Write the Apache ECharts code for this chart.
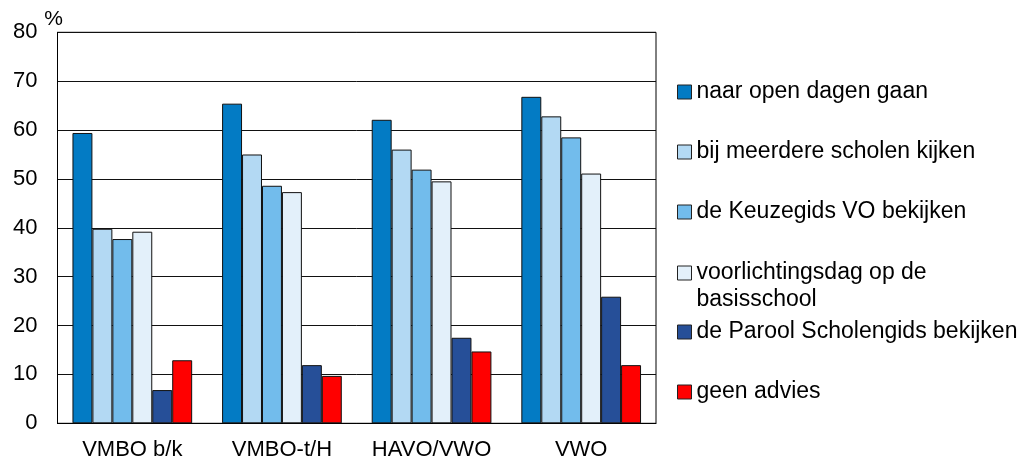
<!DOCTYPE html>
<html>
<head>
<meta charset="utf-8">
<title>Oriëntatie op het voortgezet onderwijs</title>
<script src="https://cdn.jsdelivr.net/npm/echarts@6/dist/echarts.min.js"></script>
<style>
    html, body { margin: 0; padding: 0; background: #fff; }
    #chart { width: 1033px; height: 463px; }
</style>
</head>
<body>
<div id="chart"></div>
<script>
// categorieen (schooladvies)
var categories = ['VMBO b/k', 'VMBO-t/H', 'HAVO/VWO', 'VWO'];
var yTicks = [0, 10, 20, 30, 40, 50, 60, 70, 80];

var seriesNames = [
    'naar open dagen gaan',
    'bij meerdere scholen kijken',
    'de Keuzegids VO bekijken',
    'voorlichtingsdag op de\nbasisschool',
    'de Parool Scholengids bekijken',
    'geen advies'
];
var seriesColors = ['#037BC4', '#B3D9F3', '#72BCEC', '#E3F0FA', '#264F98', '#FF0000'];

// percentages per categorie
var openDagen = [59.4, 65.4, 62.1, 66.8];
var meerdereScholen = [39.8, 55.0, 56.0, 62.8];
var keuzegids = [37.7, 48.6, 51.9, 58.5];
var voorlichtingsdag = [39.2, 47.3, 49.5, 51.1];
var parool = [6.8, 11.9, 17.5, 25.9];
var geenAdvies = [12.9, 9.7, 14.7, 11.9];

var seriesValues = [openDagen, meerdereScholen, keuzegids, voorlichtingsdag, parool, geenAdvies];

var font = "'Liberation Sans', Arial, Helvetica, sans-serif";

var myChart = echarts.init(document.getElementById('chart'));

// elk legenda-item apart, zodat de regelafstand gelijk blijft
var legends = seriesNames.map(function (name, i) {
    var twoLines = name.indexOf('\n') >= 0;
    return {
        show: true,
        data: [name],
        left: 677,
        top: twoLines ? 232.5 : 78.5 + i * 60,
        orient: 'vertical',
        selectedMode: false,
        itemWidth: 14,
        itemHeight: 14,
        itemGap: 0,
        padding: 0,
        icon: 'rect',
        itemStyle: { borderColor: '#222', borderWidth: 1 },
        // lege eerste regel: eerste tekstregel komt dan naast het blokje
        formatter: function (n) { return twoLines ? '\n' + n : n; },
        textStyle: {
            fontFamily: font,
            fontSize: 23,
            color: '#000',
            lineHeight: 27
        }
    };
});

myChart.setOption({
    animation: false,
    backgroundColor: '#fff',
    textStyle: { fontFamily: font },
    grid: {
        left: 57.5,
        right: 377,
        top: 32.3,
        bottom: 39.7,
        show: true,
        borderColor: '#000',
        borderWidth: 1
    },
    legend: legends,
    xAxis: {
        type: 'category',
        data: categories,
        axisTick: { show: false },
        axisLine: { show: true, lineStyle: { color: '#000', width: 1 } },
        axisLabel: { interval: 0, fontFamily: font, fontSize: 22, color: '#000', margin: 16 }
    },
    yAxis: {
        type: 'value',
        min: yTicks[0],
        max: yTicks[yTicks.length - 1],
        interval: 10,
        name: '%',
        nameLocation: 'end',
        nameGap: 3,
        nameTextStyle: { fontFamily: font, fontSize: 21, color: '#000', padding: [0, 8, 0, 0] },
        axisTick: { show: false },
        axisLine: { show: true, lineStyle: { color: '#000', width: 1 } },
        axisLabel: { fontFamily: font, fontSize: 22, color: '#000', margin: 20 },
        splitLine: { show: true, lineStyle: { color: '#111', width: 1 } }
    },
    series: seriesNames.map(function (name, i) {
        return {
            name: name,
            type: 'bar',
            data: seriesValues[i],
            barGap: '0%',
            barCategoryGap: '20%',
            itemStyle: {
                color: seriesColors[i],
                borderColor: '#111',
                borderWidth: 1
            }
        };
    })
});
</script>
</body>
</html>
